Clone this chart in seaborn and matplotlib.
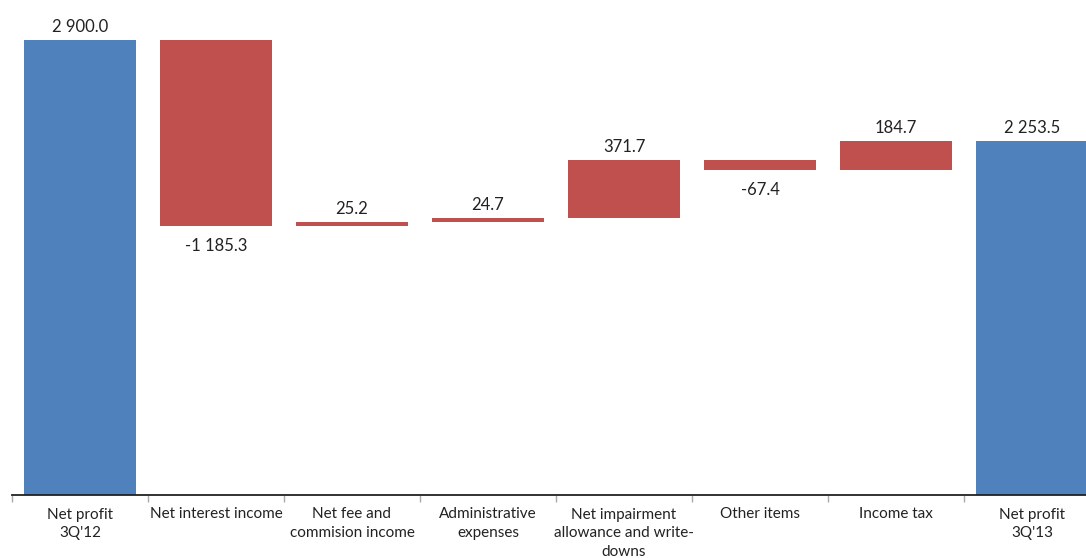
import matplotlib
matplotlib.use("Agg")
import matplotlib.pyplot as plt
from matplotlib import font_manager
import seaborn as sns
import numpy as np
import pandas as pd

categories = ["Net profit\n3Q'12", "Net interest income", "Net fee and\ncommision income",
              "Administrative\nexpenses", "Net impairment\nallowance and write-\ndowns",
              "Other items", "Income tax", "Net profit\n3Q'13"]
changes = [2900.0, -1185.3, 25.2, 24.7, 371.7, -67.4, 184.7, 2253.5]
is_total = [True, False, False, False, False, False, False, True]

sns.set_theme(style="white")
avail = {f.name for f in font_manager.fontManager.ttflist}
if "Liberation Sans Narrow" in avail:
    fam, lab_fs, val_fs = "Liberation Sans Narrow", 12.5, 12.5
else:
    fam, lab_fs, val_fs = "Lato", 11, 12
plt.rcParams['font.family'] = [fam, 'DejaVu Sans']

# waterfall geometry
bottoms, heights = [], []
run = 0.0
for v, tot in zip(changes, is_total):
    if tot:
        start, end = 0.0, v
    else:
        start, end = run, run + v
    run = end
    bottoms.append(min(start, end))
    heights.append(abs(end - start))

df = pd.DataFrame({"cat": categories, "h": heights})
colors = ["#4F81BD" if t else "#C0504D" for t in is_total]

fig = plt.figure(figsize=(10.86, 5.58), dpi=100)
W, H = 1086, 558
x0, x1 = 12, 12 + 8 * 136
ybase, ytop_px = 495, 40
scale = (ybase - ytop_px) / 2900.0
ymax = 3000
ax = fig.add_axes([x0 / W, (H - ybase) / H, (x1 - x0) / W, ymax * scale / H])

sns.barplot(data=df, x="cat", y="h", bottom=bottoms, width=0.83, ax=ax,
            color="#4F81BD", saturation=1, linewidth=0)
for p, c in zip(ax.patches, colors):
    p.set_facecolor(c)

ax.set_xlim(-0.5, 7.5)
ax.set_ylim(0, ymax)
ax.set_xlabel("")
ax.set_ylabel("")
ax.set_yticks([])
for s in ["top", "right", "left"]:
    ax.spines[s].set_visible(False)
ax.spines["bottom"].set_color("#222222")
ax.spines["bottom"].set_linewidth(1.3)

ax.set_xticks(np.arange(8))
ax.set_xticklabels(categories, fontsize=lab_fs, color="#222222", linespacing=1.45)
ax.tick_params(axis="x", which="major", length=0, pad=9)
ax.set_xticks(np.arange(-0.5, 8.0, 1.0), minor=True)
ax.tick_params(axis="x", which="minor", bottom=True, length=5, color="#aaaaaa",
               width=1, direction="out")

for i, v in enumerate(changes):
    label = f"{v:,.1f}".replace(",", " ")
    top = bottoms[i] + heights[i]
    bot = bottoms[i]
    if v >= 0:
        ax.annotate(label, (i, top), xytext=(0, 8), textcoords="offset pixels",
                    ha="center", va="baseline", fontsize=val_fs, color="#222222")
    else:
        ax.annotate(label, (i, bot), xytext=(0, -12), textcoords="offset pixels",
                    ha="center", va="top", fontsize=val_fs, color="#222222")

fig.savefig("out.png", dpi=100)
